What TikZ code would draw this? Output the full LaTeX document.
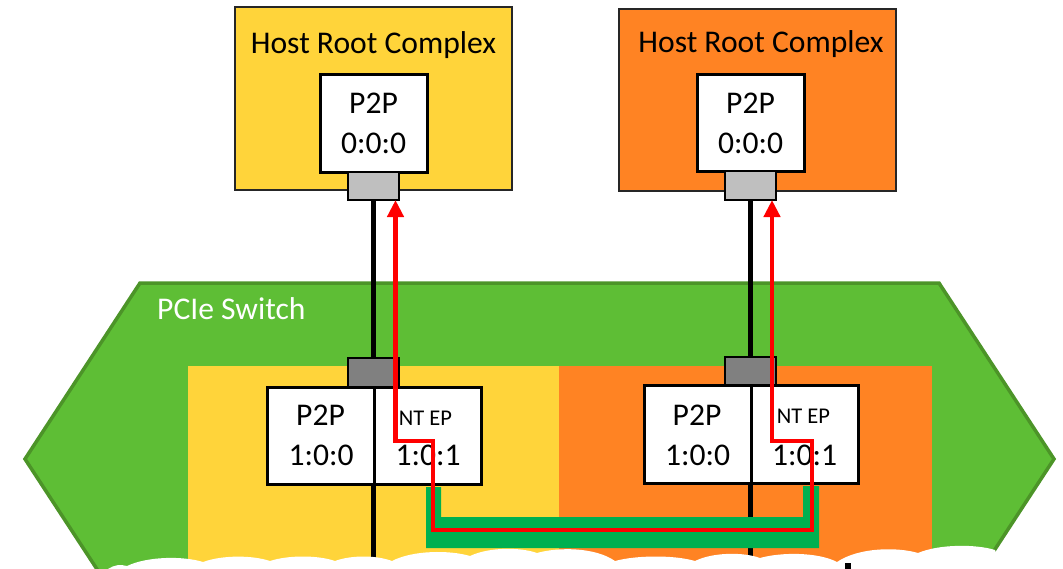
\documentclass[tikz,border=0pt]{standalone}
\usepackage{fontspec}
\setmainfont{Carlito}
\usetikzlibrary{arrows.meta,calc}
\definecolor{hostyellow}{HTML}{FFD43A}
\definecolor{hostorange}{HTML}{FF8323}
\definecolor{switchgreen}{HTML}{5EBE35}
\definecolor{switchedge}{HTML}{4C9428}
\definecolor{ntgreen}{HTML}{00B050}
\definecolor{portlight}{HTML}{BFBFBF}
\definecolor{portdark}{HTML}{808080}
\begin{document}
\begin{tikzpicture}[x=1pt,y=-1pt,
  box/.style={rectangle,inner sep=0pt,outer sep=0pt,minimum width=#1},
  hostbox/.style={box=277pt,draw=black!85,line width=1.8pt,minimum height=183pt},
  fnbox/.style={box=107pt,draw=black,line width=3pt,fill=white,minimum height=97pt},
  hostport/.style={box=51pt,draw=black,line width=1.8pt,fill=portlight,minimum height=28pt},
  swport/.style={box=51pt,draw=black,line width=1.8pt,fill=portdark,minimum height=28pt},
  big/.style={font=\fontsize{31.6}{40}\selectfont,anchor=base,inner sep=0pt},
  small/.style={font=\fontsize{22.5}{26}\selectfont,anchor=base,inner sep=0pt},
  wire/.style={line width=4.5pt,black},
  signal/.style={line width=4.6pt,red,line join=miter,
    {Triangle[width=16pt,length=17pt]}-{Triangle[width=16pt,length=17pt]}}]
\useasboundingbox (0,0) rectangle (1063,568);
\fill[white] (0,0) rectangle (1063,568);
\begin{scope}
\clip (0,0) rectangle (1063,568);

% switch body
\filldraw[fill=switchgreen,draw=switchedge,line width=3.5pt,line join=miter]
  (140,283) -- (939,283) -- (1054,459) -- (939,635) -- (140,635) -- (25,459) -- cycle;
\node[white,big,anchor=base west] (swlabel) at (157,319) {PCIe Switch};

% host partitions inside the switch
\fill[hostyellow] (188,366) rectangle (559,600);
\fill[hostorange] (559,366) rectangle (932,600);

% host root complexes
\node[hostbox,fill=hostyellow] (hostA) at (373.5,98.5) {};
\node[hostbox,fill=hostorange,minimum height=182pt] (hostB) at (757.5,100) {};
\node[big] (hostAt) at (373.5,53) {Host Root Complex};
\node[big] (hostBt) at (761,52) {Host Root Complex};

\node[fnbox,minimum height=98pt] (rpA) at (373.5,123) {};
\node[fnbox] (rpB) at (750.5,122.5) {};
\node[big] at (373.5,113) {P2P};
\node[big] at (373.5,153) {0:0:0};
\node[big] at (750.5,113) {P2P};
\node[big] at (750.5,153) {0:0:0};

% links from root ports down through the switch
\coordinate (endA) at (373.5,568);
\coordinate (endB) at (750.5,568);
\draw[wire] (373.5,190) -- (endA);
\draw[wire] (750.5,190) -- (endB);

\node[hostport] (hpA) at (373.5,186) {};
\node[hostport,minimum height=29pt] (hpB) at (750.5,185.5) {};
\node[swport,minimum height=29pt] (spA) at (373.5,372.5) {};
\node[swport] (spB) at (750.5,371) {};

% switch functions
\node[fnbox] (p2pA) at (320.5,435.5) {};
\node[fnbox] (ntA) at (427.5,435.5) {};
\node[fnbox,minimum height=98pt] (p2pB) at (697.5,434) {};
\node[fnbox,minimum height=98pt] (ntB) at (804.5,434) {};
\node[big] at (320.5,425) {P2P};
\node[big] at (321,465) {1:0:0};
\node[small] at (425.5,425) {NT EP};
\node[big] at (428,465) {1:0:1};
\node[big] at (697,425) {P2P};
\node[big] at (697.5,465) {1:0:0};
\node[small] at (803.5,423) {NT EP};
\node[big] at (804.5,465) {1:0:1};

% NT link between the two endpoints
\fill[ntgreen] (426,487) -- (426,548) -- (819,548) -- (819,486)
  -- (803,486) -- (803,517) -- (441,517) -- (441,487) -- cycle;

% cross-domain path
\coordinate (tipA) at ($(hpA.south east)+(-3.5,0)$);
\coordinate (tipB) at ($(hpB.south east)+(-4,0)$);
\draw[signal] (tipA) |- (433,441) |- (812,530) -- (812,441) -| (tipB);

% cloud edge
\fill[white] (100,590) -- (108,569)
  .. controls (114,565) and (120,564) .. (127,566)
  .. controls (148,556) and (184,556) .. (203,562)
  .. controls (222,555) and (252,555) .. (270,561)
  .. controls (288,555) and (318,555) .. (335,561)
  .. controls (351,555) and (376,555) .. (392,561)
  .. controls (413,550) and (450,550) .. (470,556)
  .. controls (489,547) and (520,547) .. (537,553)
  .. controls (558,547) and (595,547) .. (615,561)
  .. controls (637,555) and (675,555) .. (695,561)
  .. controls (713,552) and (744,552) .. (760,558)
  .. controls (781,552) and (818,552) .. (837,562)
  .. controls (859,547) and (898,547) .. (918,553)
  .. controls (939,544) and (976,544) .. (995,550)
  -- (1010,590) -- cycle;
\fill[black] (845,563) rectangle (851,570);
\end{scope}
\end{tikzpicture}
\end{document}
